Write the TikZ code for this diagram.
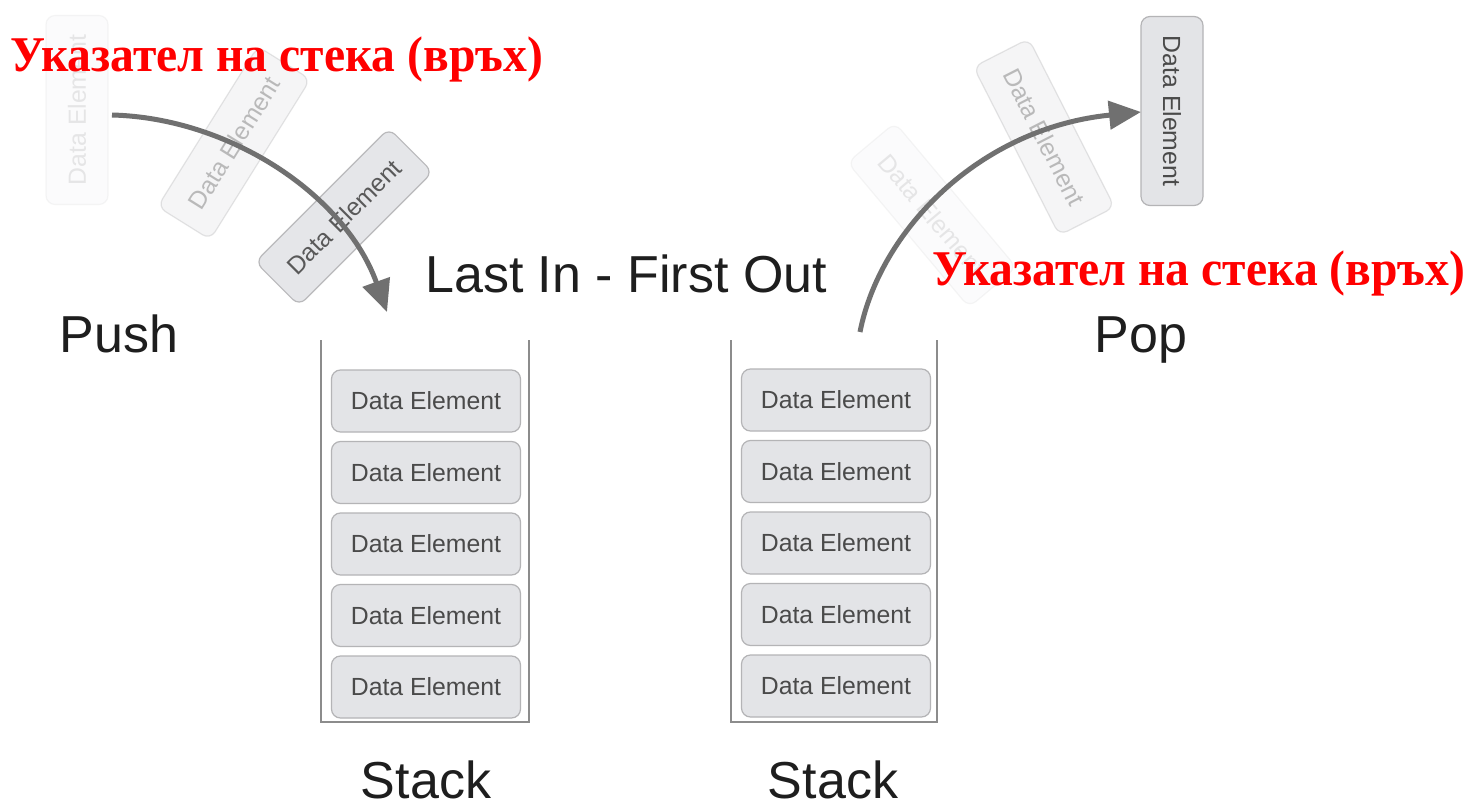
\documentclass[tikz,border=0pt]{standalone}
\usepackage{fontspec}
\setmainfont{Liberation Sans}
\newfontfamily\redfont{Liberation Serif}
\usetikzlibrary{arrows.meta}
\definecolor{boxfill}{HTML}{E3E4E7}
\definecolor{boxline}{HTML}{B4B4B6}
\definecolor{elemtext}{HTML}{4A4A4A}
\definecolor{maintext}{HTML}{1E1E1E}
\definecolor{arrowgray}{HTML}{707070}
\definecolor{wallgray}{HTML}{8C8C8C}
\definecolor{pure red}{HTML}{FF0000}
\tikzset{
  elem/.style={draw=boxline, fill=boxfill, rounded corners=9pt, minimum width=189pt,
    minimum height=62pt, inner sep=0pt, line width=1.2pt,
    font=\fontsize{24.8}{26}\selectfont, text=elemtext},
  bigtxt/.style={font=\fontsize{52}{60}\selectfont, text=maintext, inner sep=0pt},
  redtxt/.style={font=\redfont\bfseries\fontsize{50}{56}\selectfont, text=pure red,
    inner sep=0pt, xscale=0.952},
  flow/.style={draw=arrowgray, line width=5pt, -{Triangle[length=32pt,width=28pt]}},
  wall/.style={draw=wallgray, line width=2.5pt}
}
\begin{document}
\begin{tikzpicture}[x=1pt,y=-1pt]
\useasboundingbox[fill=white] (0,0) rectangle (1472,805);

% stack containers
\draw[wall] (321,340) -- (321,722) -- (529,722) -- (529,340);
\draw[wall] (731,340) -- (731,722) -- (937,722) -- (937,340);

% left stack elements
\node[elem] (L1) at (426,401) {Data Element};
\node[elem] (L2) at (426,472.5) {Data Element};
\node[elem] (L3) at (426,544) {Data Element};
\node[elem] (L4) at (426,615.5) {Data Element};
\node[elem] (L5) at (426,687) {Data Element};

% right stack elements
\node[elem] (R1) at (836,400) {Data Element};
\node[elem] (R2) at (836,471.5) {Data Element};
\node[elem] (R3) at (836,543) {Data Element};
\node[elem] (R4) at (836,614.5) {Data Element};
\node[elem] (R5) at (836,686) {Data Element};

% push: moving elements
\node[elem, rotate=90, opacity=0.12] (P1) at (77,110) {Data Element};
\node[elem, rotate=58, opacity=0.35] (P2) at (234,143) {Data Element};
\node[elem, rotate=45, opacity=0.9] (P3) at (344,217) {Data Element};

% pop: moving elements
\node[elem, rotate=-50, opacity=0.12] (Q3) at (932,215) {Data Element};
\node[elem, rotate=-63, opacity=0.35] (Q2) at (1044,137) {Data Element};
\node[elem, rotate=-90] (Q1) at (1172,111) {Data Element};

% arrows
\coordinate (pushstart) at (112,115);
\coordinate (pushend) at (387,312);
\draw[flow] (pushstart) .. controls (230,118) and (345,195) .. (pushend);
\coordinate (popstart) at (860,332);
\coordinate (popend) at (1141,112);
\draw[flow] (popstart) .. controls (880,230) and (980,128) .. (popend);

% labels
\node[bigtxt, anchor=base] (lifo) at (626,292) {Last In - First Out};
\node[bigtxt, anchor=base] (push) at (119,352) {Push};
\node[bigtxt, anchor=base] (pop) at (1141,352) {Pop};
\node[bigtxt, anchor=base] (stackL) at (426,798) {Stack};
\node[bigtxt, anchor=base] (stackR) at (833,798) {Stack};

% red pointer labels
\node[redtxt, anchor=base west] (ptrL) at (10,72) {Указател на стека (връх)};
\node[redtxt, anchor=base west] (ptrR) at (932,285) {Указател на стека (връх)};
\end{tikzpicture}
\end{document}
